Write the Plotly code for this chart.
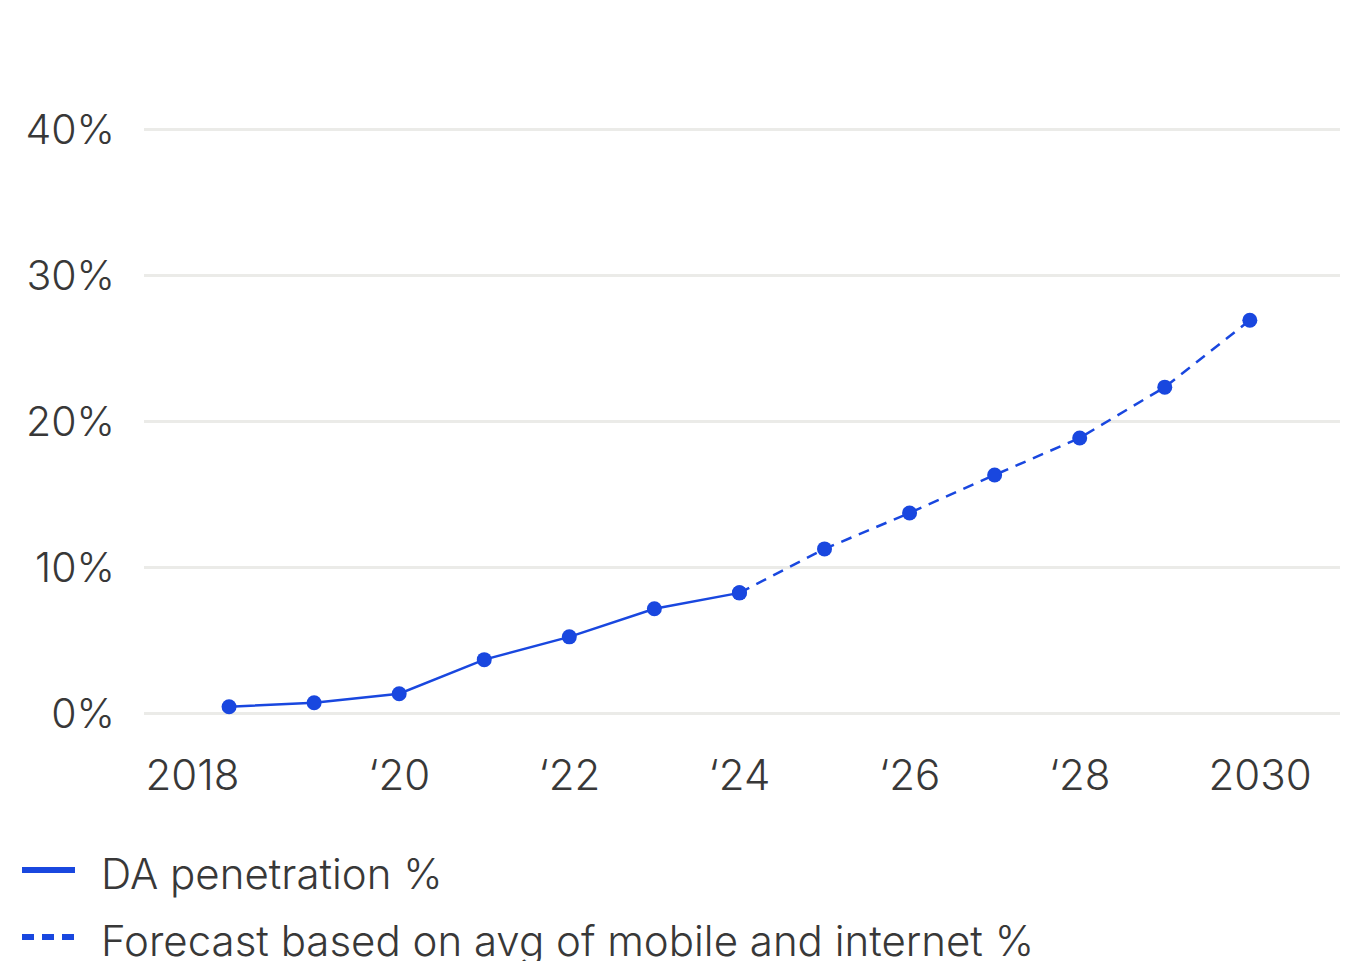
import plotly.graph_objects as go

# DA penetration, actual and forecast (percent)
actual_years = [2018, 2019, 2020, 2021, 2022, 2023, 2024]
actual_pct = [0.48, 0.75, 1.37, 3.7, 5.26, 7.18, 8.27]

forecast_years = [2024, 2025, 2026, 2027, 2028, 2029, 2030]
forecast_pct = [8.27, 11.28, 13.74, 16.34, 18.87, 22.35, 26.93]

x_tick_labels = ["2018", "\u201820", "\u201822", "\u201824", "\u201826", "\u201828", "2030"]
x_tick_pos = [2017.57, 2020, 2022, 2024, 2026, 2028, 2030.12]
y_tick_vals = [0, 10, 20, 30, 40]
y_tick_labels = ["0%", "10%", "20%", "30%", "40%"]

legend_labels = ["DA penetration %", "Forecast based on avg of mobile and internet %"]

BLUE = "#1947DF"
TEXT = "#383838"
GRID = "#EBEBE8"
FONT = "Inter, Roboto, sans-serif"

fig = go.Figure()

fig.add_trace(go.Scatter(
    x=forecast_years, y=forecast_pct, mode="lines+markers",
    line=dict(color=BLUE, width=2.5, dash="11px,8px"),
    marker=dict(color=BLUE, size=15),
    showlegend=False, hoverinfo="skip",
))
fig.add_trace(go.Scatter(
    x=actual_years, y=actual_pct, mode="lines+markers",
    line=dict(color=BLUE, width=2.5),
    marker=dict(color=BLUE, size=15),
    showlegend=False, hoverinfo="skip",
))

# Hand-drawn legend below the plot (paper coords relative to the plot area)
legend_rows = [(-0.2487, "solid"), (-0.3606, "12px,8px")]
for (yp, dash), label in zip(legend_rows, legend_labels):
    fig.add_shape(type="line", xref="paper", yref="paper",
                  x0=-0.102, x1=-0.0577, y0=yp, y1=yp,
                  line=dict(color=BLUE, width=6, dash=dash))
    fig.add_annotation(xref="paper", yref="paper", x=-0.0375, y=yp - 0.006,
                       text=label, showarrow=False, xanchor="left", yanchor="middle",
                       font=dict(family=FONT, size=42, color=TEXT, weight=300))

fig.update_layout(
    width=1359, height=961,
    margin=dict(l=144, r=19, t=122, b=240),
    paper_bgcolor="white", plot_bgcolor="white",
    font=dict(family=FONT, size=42, color=TEXT, weight=300),
    xaxis=dict(
        range=[2017.0, 2031.06], tickmode="array",
        tickvals=x_tick_pos, ticktext=x_tick_labels,
        showgrid=False, zeroline=False, showline=False, ticks="",
        ticklabelstandoff=26,
        tickfont=dict(family=FONT, size=42, color=TEXT, weight=300),
    ),
    yaxis=dict(
        range=[-0.5, 40.5], tickmode="array",
        tickvals=y_tick_vals, ticktext=y_tick_labels,
        showgrid=True, gridcolor=GRID, gridwidth=3,
        zeroline=False, showline=False, ticks="",
        ticklabelstandoff=28,
        tickfont=dict(family=FONT, size=41, color=TEXT, weight=300),
    ),
)

fig.write_html("out.html")
